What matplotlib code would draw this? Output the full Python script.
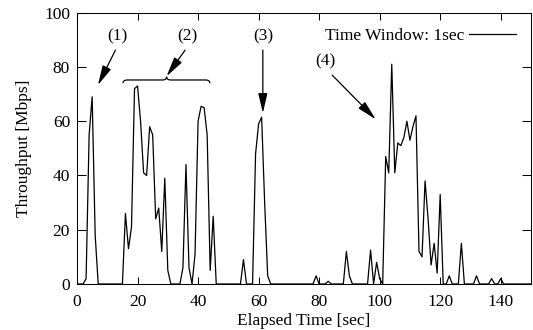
import numpy as np
import matplotlib
matplotlib.use("Agg")
import matplotlib.pyplot as plt
from matplotlib.path import Path
from matplotlib.patches import PathPatch

# throughput samples, one per second (Time Window: 1sec)
elapsed = list(range(0, 151))
throughput = [
    0, 0, 0, 2, 55, 69, 18, 0, 0, 0,            # 0-9
    0, 0, 0, 0, 0, 0, 26, 13, 21, 72,           # 10-19
    73, 60, 41, 40, 58, 55, 24, 28, 12, 39,     # 20-29
    5, 0, 0, 0, 0, 6, 44, 6, 0, 11,             # 30-39
    60, 65.5, 65, 55, 5, 25, 0, 0, 0, 0,        # 40-49
    0, 0, 0, 0, 0, 9, 0, 0, 0, 48,              # 50-59
    59, 61.5, 30, 3, 0, 0, 0, 0, 0, 0,          # 60-69
    0, 0, 0, 0, 0, 0, 0, 0, 0, 3,               # 70-79
    0, 0, 0, 1, 0, 0, 0, 0, 0, 12,              # 80-89
    3, 0, 0, 0, 0, 0, 0, 12.5, 0, 8,            # 90-99
    2, 0, 47, 41, 81, 41, 52, 51, 54, 60,       # 100-109
    53, 58, 62, 12, 10, 38, 24, 7, 15, 4,       # 110-119
    33, 0, 0, 3, 0, 0, 0, 15, 0, 0,             # 120-129
    0, 0, 3, 0, 0, 0, 0, 2, 0, 0,               # 130-139
    2, 0, 0, 0, 0, 0, 0, 0, 0, 0,               # 140-149
    0,                                          # 150
]

labels = ["(1)", "(2)", "(3)", "(4)"]

plt.rcParams['font.family'] = ['Liberation Serif', 'DejaVu Serif']
plt.rcParams['font.size'] = 12.5

fig = plt.figure(figsize=(5.33, 3.30), dpi=100)
ax = fig.add_axes([0.1445, 0.1394, 0.9962 - 0.1445, 0.9615 - 0.1394])

ax.plot(elapsed, throughput, color='black', lw=0.9, label='Time Window: 1sec')

ax.set_xlim(0, 150)
ax.set_ylim(0, 100)
ax.set_xticks(np.arange(0, 141, 20))
ax.set_yticks(np.arange(0, 101, 20))
ax.tick_params(axis='both', direction='in', top=True, right=True, width=0.75)
ax.tick_params(axis='x', length=4.8, pad=7.5)
ax.tick_params(axis='y', length=6.5, pad=5)
for s in ax.spines.values():
    s.set_linewidth(0.75)
ax.set_xlabel('Elapsed Time [sec]', labelpad=2)
ax.set_ylabel('Throughput [Mbps]', labelpad=9)

leg = ax.legend(loc='upper right', frameon=False, markerfirst=False,
                handlelength=2.7, borderaxespad=0.45, handletextpad=0.3,
                borderpad=0.4)

arw = dict(arrowstyle='-|>,head_length=1.2,head_width=0.28', color='black',
           lw=0.9, mutation_scale=10, shrinkA=0, shrinkB=0)

# (1)
ax.text(13.5, 91.2, labels[0], ha='center', va='center')
ax.annotate('', xy=(6.9, 73.3), xytext=(12.7, 86.2), arrowprops=arw)
# (2)
ax.text(36.4, 91.2, labels[1], ha='center', va='center')
ax.annotate('', xy=(29.6, 76.6), xytext=(35.7, 86.2), arrowprops=arw)
# (3)
ax.text(61.6, 91.2, labels[2], ha='center', va='center')
ax.annotate('', xy=(61.4, 63.0), xytext=(61.4, 86.2), arrowprops=arw)
# (4)
ax.text(82.0, 82.2, labels[3], ha='center', va='center')
ax.annotate('', xy=(98.7, 60.7), xytext=(84.3, 77.0), arrowprops=arw)

# curly brace over group (2)
x0, x1, xm = 15.2, 43.9, 29.6
yb, ye, yt = 75.2, 74.0, 76.4
verts = [(x0, ye), (x0, yb), (x0 + 1.4, yb),
         (xm - 1.4, yb), (xm, yb), (xm, yt),
         (xm, yb), (xm + 1.4, yb),
         (x1 - 1.4, yb), (x1, yb), (x1, ye)]
codes = [Path.MOVETO, Path.CURVE3, Path.CURVE3,
         Path.LINETO, Path.CURVE3, Path.CURVE3,
         Path.CURVE3, Path.CURVE3,
         Path.LINETO, Path.CURVE3, Path.CURVE3]
ax.add_patch(PathPatch(Path(verts, codes), fill=False, lw=0.9, color='black'))

fig.savefig('out.png', dpi=100)
